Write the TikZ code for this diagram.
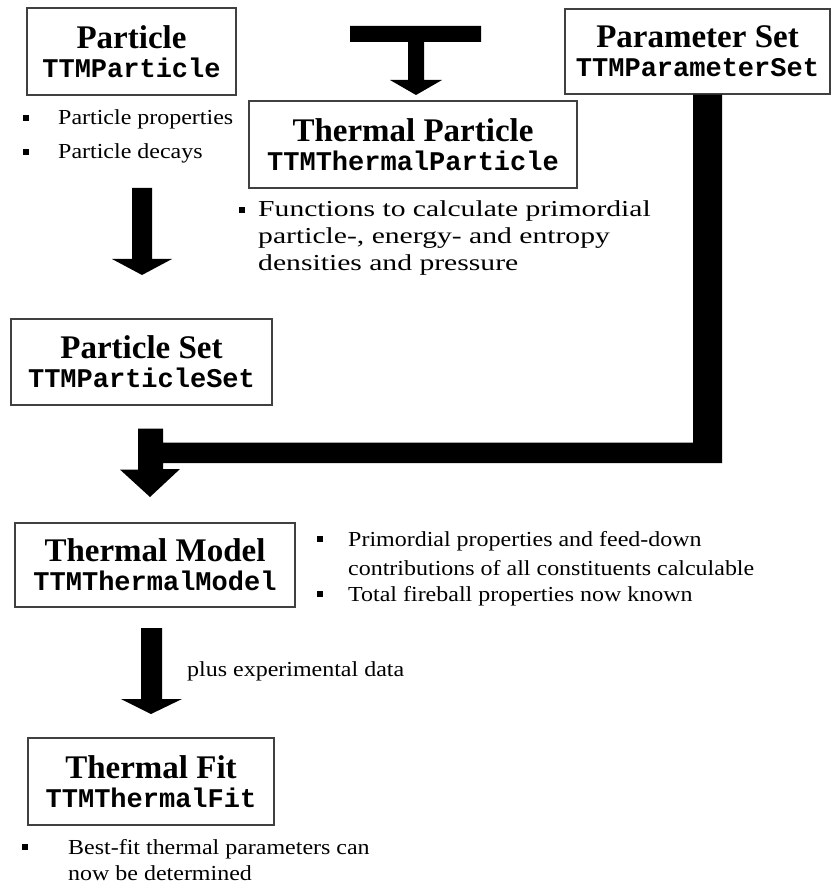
\documentclass[tikz,border=0pt]{standalone}
\usepackage{fontspec}
\setmainfont{Liberation Serif}
\setmonofont{Liberation Mono}
\newfontfamily\bodyfont[FakeStretch=1.12]{Liberation Serif}
\newfontfamily\widebodyfont[FakeStretch=1.3]{Liberation Serif}
\usepackage{array}
\usetikzlibrary{positioning}

\newcommand{\bul}{\rule[4pt]{6pt}{6pt}}
\newcommand{\boxtitle}[2]{{\fontsize{33}{29}\selectfont\bfseries #1}\\{\ttfamily\bfseries #2}}

\begin{document}
\begin{tikzpicture}[x=1pt, y=-1pt,
    classbox/.style={draw=black!75, line width=1.2pt, fill=white, align=center,
      inner sep=0pt, font=\fontsize{27}{29}\selectfont},
    bodytext/.style={anchor=base west, inner sep=0pt,
      font=\bodyfont\fontsize{21.4}{26}\selectfont}]
    \useasboundingbox (0,0) rectangle (832,890);

    % class boxes
    \node[classbox, minimum width=209pt, minimum height=87pt] (particle) at (131.5,51.5) {\boxtitle{Particle}{TTMParticle}};
    \node[classbox, minimum width=328pt, minimum height=87pt] (thermpart) at (413,144.5) {\boxtitle{Thermal Particle}{TTMThermalParticle}};
    \node[classbox, minimum width=265pt, minimum height=85pt] (paramset) at (697.5,51.5) {\boxtitle{Parameter Set}{TTMParameterSet}};
    \node[classbox, minimum width=261pt, minimum height=86pt] (partset) at (141.5,362) {\boxtitle{Particle Set}{TTMParticleSet}};
    \node[classbox, minimum width=280pt, minimum height=84pt] (thermmodel) at (155,565) {\boxtitle{Thermal Model}{TTMThermalModel}};
    \node[classbox, minimum width=246pt, minimum height=87pt] (thermfit) at (151,781.5) {\boxtitle{Thermal Fit}{TTMThermalFit}};

    % bullet lists
    \node[bodytext] (partlist) at (23,125) {\begin{tabular}[t]{@{}p{35pt}@{}l@{}}
      \bul & Particle properties\\[8pt]
      \bul & Particle decays
    \end{tabular}};
    \node[bodytext, font=\widebodyfont\fontsize{22.8}{27}\selectfont] (funclist) at (239,217) {\begin{tabular}[t]{@{}p{19pt}@{}l@{}}
      \bul & Functions to calculate primordial\\
           & particle-, energy- and entropy\\
           & densities and pressure
    \end{tabular}};
    \node[bodytext] (modellist) at (317,546) {\begin{tabular}[t]{@{}p{31pt}@{}l@{}}
      \bul & Primordial properties and feed-down\\[3pt]
           & contributions of all constituents calculable\\
      \bul & Total fireball properties now known
    \end{tabular}};
    \node[bodytext] (fitlist) at (22,854) {\begin{tabular}[t]{@{}p{46pt}@{}l@{}}
      \bul & Best-fit thermal parameters can\\
           & now be determined
    \end{tabular}};
    \node[bodytext] (expdata) at (187,676) {plus experimental data};

    % fat arrows
    \coordinate (tin) at (416,95);
    \fill (tin) -- ++(26,-15) -- ++(-18,0) -- ++(0,-38) -- ++(57,0) -- ++(0,-16)
      -- ++(-131,0) -- ++(0,16) -- ++(58,0) -- ++(0,38) -- ++(-18,0) -- cycle;
    \coordinate (psin) at (142,275);
    \fill (psin) -- ++(30,-16) -- ++(-20,0) -- ++(0,-71) -- ++(-20,0) -- ++(0,71)
      -- ++(-20,0) -- cycle;
    \coordinate (tmin) at (150,497);
    \fill (tmin) -- ++(30,-28) -- ++(-17,0) -- ++(0,-6) -- ++(559,0) -- (paramset.south -| 722,0)
      -- (paramset.south -| 693,0) -- ++(0,348) -- ++(-530,0) -- ++(0,-14) -- ++(-25,0)
      -- ++(0,41) -- ++(-18,0) -- cycle;
    \coordinate (tfin) at (151,714);
    \fill (tfin) -- ++(31,-15) -- ++(-20,0) -- ++(0,-71) -- ++(-21,0) -- ++(0,71)
      -- ++(-20,0) -- cycle;
\end{tikzpicture}
\end{document}
